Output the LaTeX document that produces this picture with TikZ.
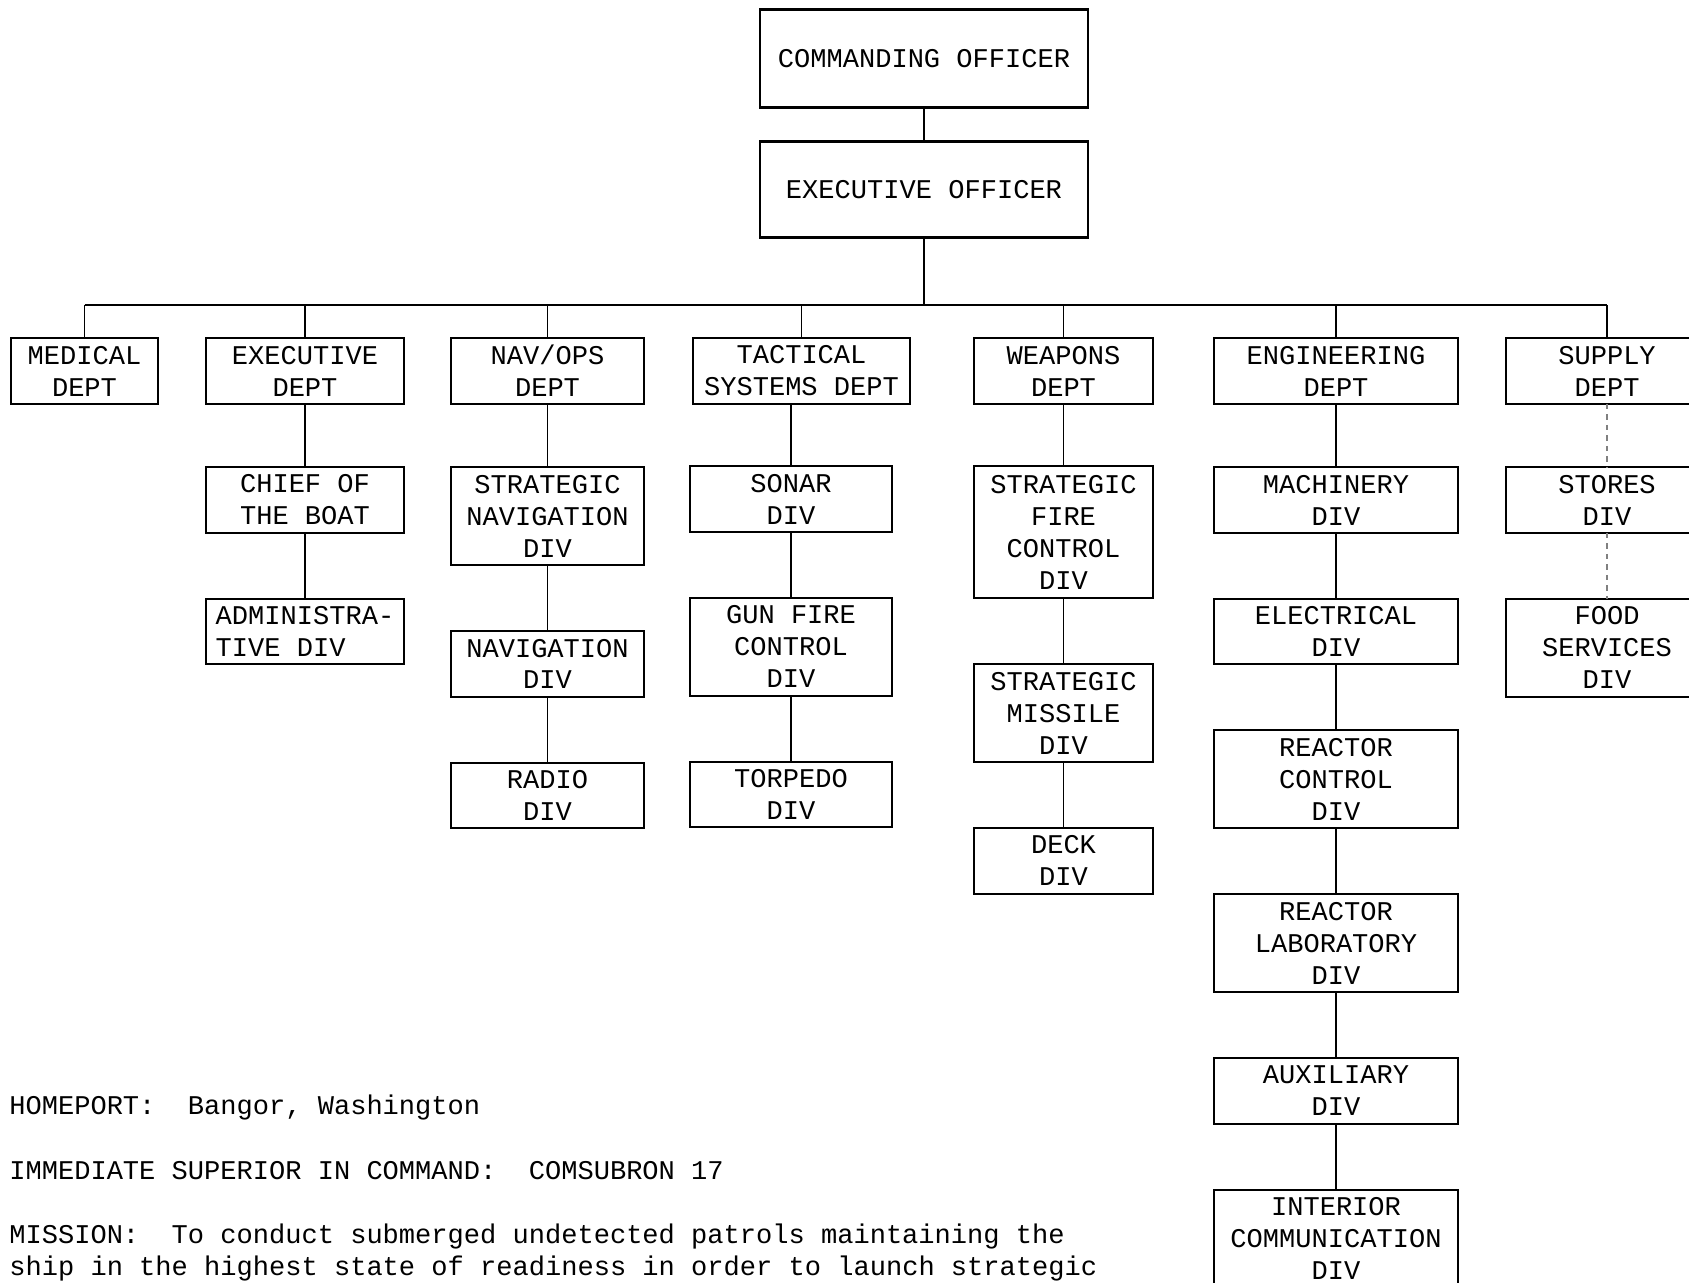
\documentclass[tikz,border=0pt]{standalone}
\usepackage{fontspec}
\setmainfont{Liberation Mono}
\usepackage{tikz}
\usetikzlibrary{positioning}
\tikzset{
    base/.style={draw, line width=1.2pt, align=center, inner sep=2pt,
                 outer sep=0pt, font=\fontsize{15.4}{18.2}\selectfont},
    two/.style={base, minimum height=1.31cm},
    three/.style={base, minimum height=1.96cm},
    four/.style={base, minimum height=2.64cm},
    officer/.style={base, minimum width=6.56cm, minimum height=1.96cm},
    execcol/.style={minimum width=3.96cm},
    navcol/.style={minimum width=3.86cm},
    tactcol/.style={minimum width=4.34cm},
    sonarcol/.style={minimum width=4.04cm},
    weapcol/.style={minimum width=3.58cm},
    engcol/.style={minimum width=4.88cm},
    supcol/.style={minimum width=4.04cm},
    link/.style={line width=0.6pt},
    faint/.style={link, gray, dashed},
    note/.style={anchor=base west, inner sep=0pt,
                 font=\fontsize{15.4}{18.2}\selectfont},
}

\begin{document}
\begin{tikzpicture}[x=0.02cm, y=-0.02cm, node distance=1.32cm]
    \useasboundingbox (0,0) rectangle (1689,1283);

    \node[officer] (co) at (924,58.5) {COMMANDING OFFICER};
    \node[officer, minimum height=1.92cm, below=0.68cm of co] (xo) {EXECUTIVE OFFICER};
    \coordinate (bus) at (0,305);

    \node[two, minimum width=2.94cm] (medical) at (84.5,371) {MEDICAL\\DEPT};
    \node[two, execcol] (execdept) at (305,371) {EXECUTIVE\\DEPT};
    \node[two, navcol] (navops) at (547.5,371) {NAV/OPS\\DEPT};
    \node[two, tactcol] (tactical) at (801.5,371) {TACTICAL\\SYSTEMS DEPT};
    \node[two, weapcol] (weapons) at (1063.5,371) {WEAPONS\\DEPT};
    \node[two, engcol] (engineering) at (1336,371) {ENGINEERING\\DEPT};
    \node[two, supcol] (supply) at (1607,371) {SUPPLY\\DEPT};

    \node[two, execcol, align=left, below=1.27cm of execdept] (chief) {CHIEF OF\\THE BOAT};
    \node[two, execcol, align=left, below=of chief] (admin) {ADMINISTRA-\\TIVE DIV};

    \node[three, navcol, below=1.27cm of navops] (stratnav) {STRATEGIC\\NAVIGATION\\DIV};
    \node[two, navcol, below=of stratnav] (navdiv) {NAVIGATION\\DIV};
    \node[two, navcol, below=of navdiv] (radio) {RADIO\\DIV};

    \node[two, sonarcol, below=1.25cm of tactical, xshift=-0.21cm] (sonar) {SONAR\\DIV};
    \node[three, sonarcol, below=of sonar] (gunfire) {GUN FIRE\\CONTROL\\DIV};
    \node[two, sonarcol, below=of gunfire] (torpedo) {TORPEDO\\DIV};

    \node[four, weapcol, below=1.25cm of weapons] (firectl) {STRATEGIC\\FIRE\\CONTROL\\DIV};
    \node[three, weapcol, below=of firectl] (missile) {STRATEGIC\\MISSILE\\DIV};
    \node[two, weapcol, below=of missile] (deck) {DECK\\DIV};

    \node[two, engcol, below=1.27cm of engineering] (machinery) {MACHINERY\\DIV};
    \node[two, engcol, below=of machinery] (electrical) {ELECTRICAL\\DIV};
    \node[three, engcol, below=of electrical] (reactorctl) {REACTOR\\CONTROL\\DIV};
    \node[three, engcol, below=of reactorctl] (reactorlab) {REACTOR\\LABORATORY\\DIV};
    \node[two, engcol, below=of reactorlab] (auxiliary) {AUXILIARY\\DIV};
    \node[three, engcol, below=of auxiliary] (intercom) {INTERIOR\\COMMUNICATION\\DIV};

    \node[two, supcol, below=1.27cm of supply] (stores) {STORES\\DIV};
    \node[three, supcol, below=of stores] (food) {FOOD\\SERVICES\\DIV};

    \draw[link] (co) -- (xo);
    \draw[link] (xo) -- (xo |- bus);
    \draw[line width=1pt] (medical |- bus) -- (supply |- bus);
    \foreach \d in {medical, execdept, navops, tactical, weapons, engineering, supply}
        \draw[link] (\d) -- (\d |- bus);

    \draw[link] (execdept) -- (chief) -- (admin);
    \draw[link] (navops) -- (stratnav) -- (navdiv) -- (radio);
    \draw[link] (sonar |- tactical.south) -- (sonar) -- (gunfire) -- (torpedo);
    \draw[link] (weapons) -- (firectl) -- (missile) -- (deck);
    \draw[link] (engineering) -- (machinery) -- (electrical) -- (reactorctl)
        -- (reactorlab) -- (auxiliary) -- (intercom);
    \draw[faint] (supply) -- (stores) -- (food);

    \node[note] (homeport) at (9,1114) {HOMEPORT:\ \ Bangor, Washington};
    \node[note] (superior) at (9,1179) {IMMEDIATE SUPERIOR IN COMMAND:\ \ COMSUBRON 17};
    \node[note] (mission) at (9,1243) {MISSION:\ \ To conduct submerged undetected patrols maintaining the};
    \node[note] (missionb) at (9,1275) {ship in the highest state of readiness in order to launch strategic};
\end{tikzpicture}
\end{document}
